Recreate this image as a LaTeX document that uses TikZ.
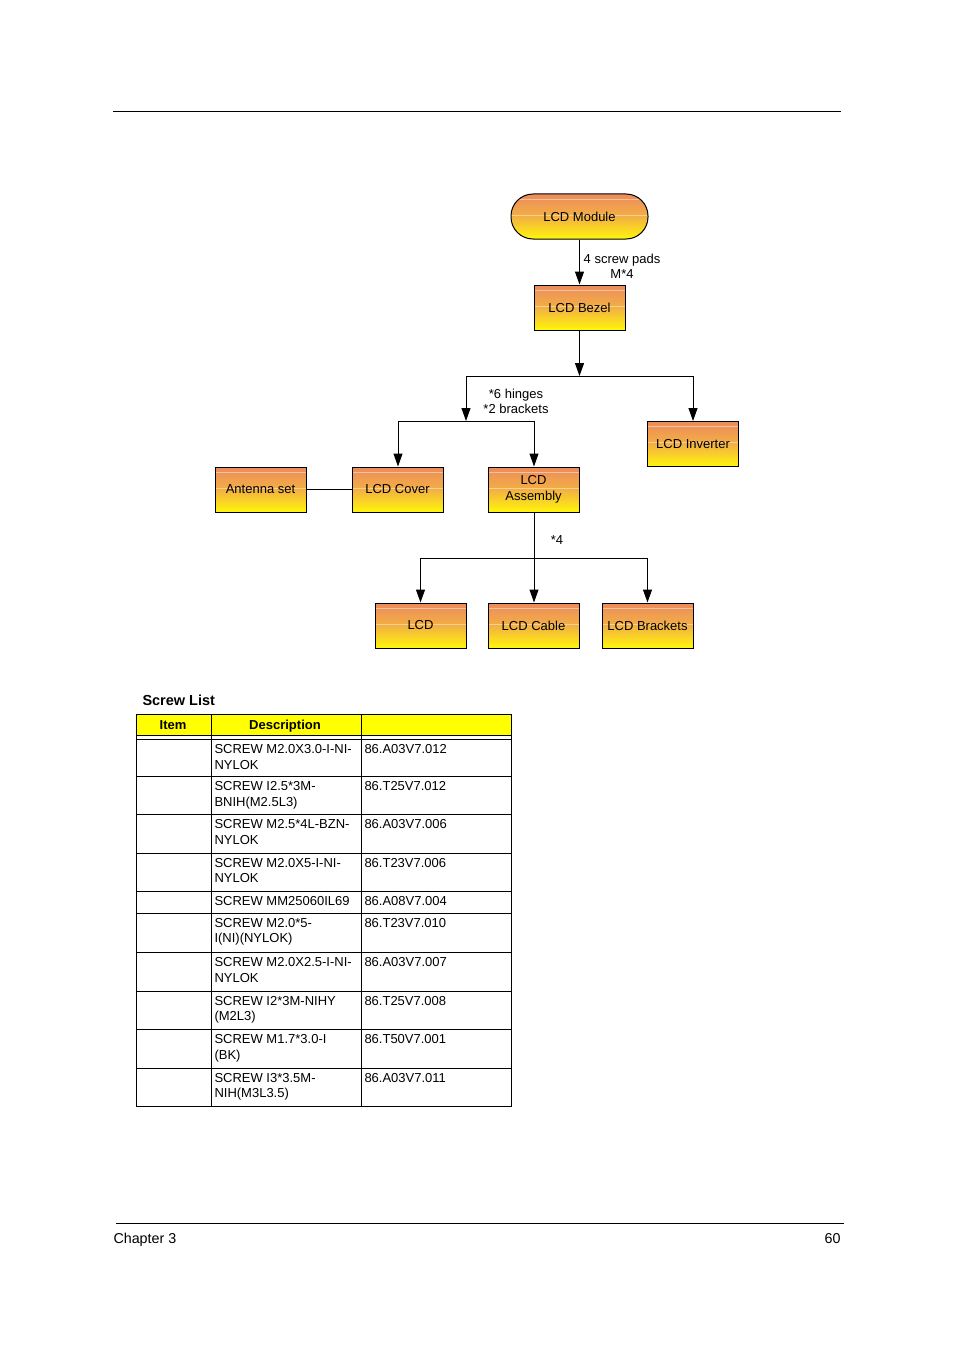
\documentclass[tikz,border=0pt]{standalone}
\usepackage{fontspec}
\setmainfont{Liberation Sans}
\usetikzlibrary{arrows.meta}
\definecolor{boxtop}{HTML}{EC8A5C}
\definecolor{boxmid}{HTML}{F3B043}
\definecolor{boxbot}{HTML}{FFF60A}
\definecolor{hdr}{HTML}{FFFF00}
\begin{document}
\begin{tikzpicture}[x=1pt,y=-1pt,line width=1pt,
  part/.style={draw=black,line width=1pt,top color=boxtop,bottom color=boxbot,middle color=boxmid,
    minimum width=91pt,minimum height=45pt,inner sep=1pt,align=center,
    font=\fontsize{13}{16}\selectfont,
    path picture={
      \draw[white,opacity=.45,line width=.8pt] ([yshift=-5pt]path picture bounding box.north west) -- ([yshift=-5pt]path picture bounding box.north east);
      \draw[white,opacity=.45,line width=.8pt] ([yshift=-21pt]path picture bounding box.north west) -- ([yshift=-21pt]path picture bounding box.north east);}},
  arr/.style={-{Triangle[length=13pt,width=9pt]}},
  lbl/.style={font=\fontsize{13}{15}\selectfont,align=center,inner sep=0pt},
  cell/.style={anchor=base west,inner sep=0pt,font=\fontsize{13}{15}\selectfont},
  hcell/.style={anchor=base,inner sep=0pt,font=\fontsize{13}{15}\selectfont\bfseries}]
\useasboundingbox (0,0) rectangle (954,1351);

% page rules
\coordinate (tl) at (113,112); \coordinate (tr) at (841,112);
\draw (tl) -- (tr);
\coordinate (bl) at (116,1223); \coordinate (br) at (844,1223);
\draw (bl) -- (br);
\node[anchor=base west,inner sep=0pt,font=\fontsize{14.3}{16}\selectfont] (chap) at (113,1243) {Chapter 3};
\node[anchor=base east,inner sep=0pt,font=\fontsize{14.3}{16}\selectfont] (pg) at (841,1243) {60};

% diagram nodes
\node[part,minimum width=137pt,rounded corners=22pt] (module) at (579.5,216.5) {LCD Module};
\node[part] (bezel) at (579.5,307.5) {LCD Bezel};
\node[part] (inverter) at (693,444) {LCD Inverter};
\node[part] (antenna) at (260.5,489.5) {Antenna set};
\node[part] (cover) at (397.5,489.5) {LCD Cover};
\node[part] (assembly) at (533.5,489.5) {LCD\\Assembly};
\node[part] (lcd) at (420.5,625.5) {LCD};
\node[part] (cable) at (533.5,625.5) {LCD Cable};
\node[part] (brackets) at (647.5,625.5) {LCD Brackets};

% labels
\node[lbl] (l1) at (622,266.5) {4 screw pads\\M*4};
\node[lbl] (l2) at (516,401.5) {*6 hinges\\*2 brackets};
\node[lbl] (l3) at (557,540) {*4};

% junctions
\coordinate (j1) at (579.5,376);
\coordinate (j1l) at (466,376); \coordinate (j1r) at (693,376);
\coordinate (j2) at (466,421);
\coordinate (j2l) at (398,421); \coordinate (j2r) at (534,421);
\coordinate (j3) at (534,558);
\coordinate (j3l) at (420.5,558); \coordinate (j3r) at (647.5,558);

% connectors
\draw[arr] (module) -- (bezel);
\draw[arr] (bezel) -- (j1);
\draw (j1l) -- (j1r);
\draw[arr] (j1l) -- (j2);
\draw[arr] (j1r) -- (inverter);
\draw (j2l) -- (j2r);
\draw[arr] (j2l) -- (j2l |- cover.north);
\draw[arr] (j2r) -- (j2r |- assembly.north);
\draw (antenna) -- (cover);
\draw (assembly.south -| j3) -- (j3);
\draw (j3l) -- (j3r);
\draw[arr] (j3l) -- (lcd);
\draw[arr] (j3) -- (j3 |- cable.north);
\draw[arr] (j3r) -- (brackets);

% screw list
\node[anchor=base west,inner sep=0pt,font=\fontsize{14.5}{16}\selectfont\bfseries] (title) at (142,705) {Screw List};
\fill[hdr] (136,714.5) rectangle (511,735);
\draw (136,714.5) rectangle (511,1106.5);
\draw (211,714.5) -- (211,1106.5);
\draw (361,714.5) -- (361,1106.5);
\draw (136,735) -- (511,735);
\node[hcell] (hitem) at (173,729.5) {Item};
\node[hcell] (hdesc) at (285,729.5) {Description};
\foreach \i/\ry/\da/\db/\pn in {
  1/739.5/SCREW M2.0X3.0-I-NI-/NYLOK/86.A03V7.012,
  2/776.5/SCREW I2.5*3M-/BNIH(M2.5L3)/86.T25V7.012,
  3/814.5/SCREW M2.5*4L-BZN-/NYLOK/86.A03V7.006,
  4/853/SCREW M2.0X5-I-NI-/NYLOK/86.T23V7.006,
  5/891.5/SCREW MM25060IL69//86.A08V7.004,
  6/913/SCREW M2.0*5-/I(NI)(NYLOK)/86.T23V7.010,
  7/952.5/SCREW M2.0X2.5-I-NI-/NYLOK/86.A03V7.007,
  8/991/SCREW I2*3M-NIHY/(M2L3)/86.T25V7.008,
  9/1029.5/SCREW M1.7*3.0-I/(BK)/86.T50V7.001,
  10/1068/SCREW I3*3.5M-/NIH(M3L3.5)/86.A03V7.011}{
  \draw (136,\ry) -- (511,\ry);
  \node[cell] (da\i) at (214,\ry+14) {\da};
  \node[cell] (db\i) at (214,\ry+29.5) {\db};
  \node[cell] (pn\i) at (364,\ry+14) {\pn};
}
\end{tikzpicture}
\end{document}
